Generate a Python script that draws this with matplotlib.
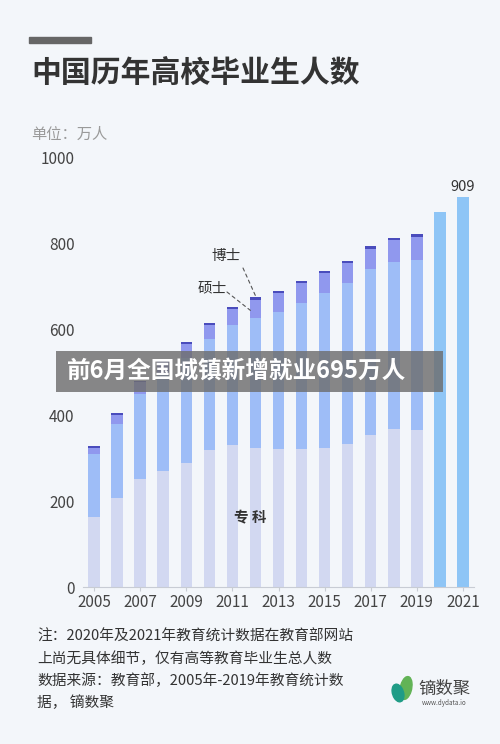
import numpy as np
import matplotlib.pyplot as plt
from matplotlib.patches import Rectangle, Ellipse

plt.rcParams['font.family'] = ['Noto Sans CJK SC', 'DejaVu Sans']

# --- data (万人) ---
years = list(range(2005, 2022))
detail_years = list(range(2005, 2020))
zhuanke = [163, 207, 251, 271, 289, 319, 331, 324, 322, 321, 324, 333, 354, 368, 366]
benke = [146, 173, 199, 226, 245, 259, 280, 304, 320, 342, 361, 375, 387, 390, 396]
shuoshi = [16, 21, 27, 30, 32, 33, 37, 42, 44, 45, 47, 47, 47, 50, 55]
boshi = [3, 4, 4, 4, 5, 5, 5, 5, 5, 5, 5, 5, 6, 6, 6]
total_years = [2020, 2021]
total_only = [874, 909]
yticks = [0, 200, 400, 600, 800, 1000]
xtick_years = list(range(2005, 2022, 2))

bg = '#f3f6fa'
c_zk = '#d2d8f1'
c_bk = '#9ebdf7'
c_ss = '#9098ee'
c_bs = '#4a4cbc'
c_tot = '#8ec5f6'

W, H = 500, 744
fig = plt.figure(figsize=(W / 100, H / 100), dpi=100, facecolor=bg)


def px(x, y):
    return x / W, 1 - y / H


ax = fig.add_axes([83 / W, (H - 587) / H, 391 / W, 429 / H])
ax.set_facecolor(bg)

idx = np.array([years.index(y) for y in detail_years])
zk = np.array(zhuanke)
bk = np.array(benke)
ss = np.array(shuoshi)
bs = np.array(boshi)
bw = 0.5
ax.bar(idx, zk, bw, color=c_zk)
ax.bar(idx, bk, bw, bottom=zk, color=c_bk)
ax.bar(idx, ss, bw, bottom=zk + bk, color=c_ss)
ax.bar(idx, bs, bw, bottom=zk + bk + ss, color=c_bs)
tidx = [years.index(y) for y in total_years]
ax.bar(tidx, total_only, bw, color=c_tot)
ax.text(tidx[-1], total_only[-1] + 8, str(total_only[-1]), ha='center', va='bottom',
        fontsize=10.5, color='#333333')

ax.set_xlim(-0.48, len(years) - 1 + 0.48)
ax.set_ylim(0, 1000)
for s in ['top', 'right', 'left']:
    ax.spines[s].set_visible(False)
ax.spines['bottom'].set_color('#c8ccd4')
ax.set_xticks([years.index(y) for y in xtick_years])
ax.set_xticklabels([str(y) for y in xtick_years])
ax.set_yticks(yticks)
ax.tick_params(axis='x', length=3, color='#c8ccd4', labelsize=11, labelcolor='#444444', pad=2)
ax.tick_params(axis='y', length=0, labelsize=11, labelcolor='#444444', pad=6)

# annotations on 2012 bar
i12 = detail_years.index(2012)
x12 = years.index(2012)
top_bs = zk[i12] + bk[i12] + ss[i12] + bs[i12]
mid_ss = zk[i12] + bk[i12] + ss[i12] * 0.4
dash = dict(arrowstyle='-', linestyle=(0, (3, 3)), color='#555555', lw=0.8,
            shrinkA=0, shrinkB=0)
ax.annotate('', xy=(x12 + 0.05, top_bs - 2), xycoords='data',
            xytext=px(243, 268), textcoords='figure fraction', arrowprops=dash)
ax.annotate('', xy=(x12 - 0.22, mid_ss), xycoords='data',
            xytext=px(227, 292), textcoords='figure fraction', arrowprops=dash)
fig.text(*px(226, 256), '博士', ha='center', va='center', fontsize=10.5, color='#333333')
fig.text(*px(212, 288), '硕士', ha='center', va='center', fontsize=10.5, color='#333333')
fig.text(*px(250, 517), '专 科', ha='center', va='center', fontsize=10.5,
         color='#333333', fontweight='bold')

# header
fig.patches.append(Rectangle(px(29, 43), 62 / W, 6 / H, transform=fig.transFigure,
                             color='#666666'))
fig.text(*px(31, 73), '中国历年高校毕业生人数', ha='left', va='center', fontsize=21.5,
         fontweight='bold', color='#333333')
fig.text(*px(31, 134), '单位：万人', ha='left', va='center', fontsize=11, color='#9a9a9a')

# banner overlay
fig.patches.append(Rectangle(px(56, 392), 387 / W, 41 / H, transform=fig.transFigure,
                             facecolor='#6e6e6e', alpha=0.82, zorder=5))
fig.text(*px(67, 371), '前6月全国城镇新增就业695万人', ha='left', va='center', fontsize=17,
         fontweight='bold', color='white', zorder=6)

# footnotes
notes = ['注：2020年及2021年教育统计数据在教育部网站',
         '上尚无具体细节，仅有高等教育毕业生总人数',
         '数据来源：教育部，2005年-2019年教育统计数',
         '据， 镝数聚']
for k, line in enumerate(notes):
    fig.text(*px(37, 637 + 22 * k), line, ha='left', va='center', fontsize=10.6, color='#333333')

# logo
fig.patches.append(Ellipse(px(406, 688), 11 / W, 24 / H, angle=-25, transform=fig.transFigure,
                           color='#62b356'))
fig.patches.append(Ellipse(px(398, 693), 10 / W, 20 / H, angle=45, transform=fig.transFigure,
                           color='#1f9c86'))
fig.text(*px(444, 689), '镝数聚', ha='center', va='center', fontsize=12.5, color='#444444')
fig.text(*px(444, 703), 'www.dydata.io', ha='center', va='center', fontsize=4.5, color='#555555')

fig.savefig('out.png', dpi=100, facecolor=bg)
